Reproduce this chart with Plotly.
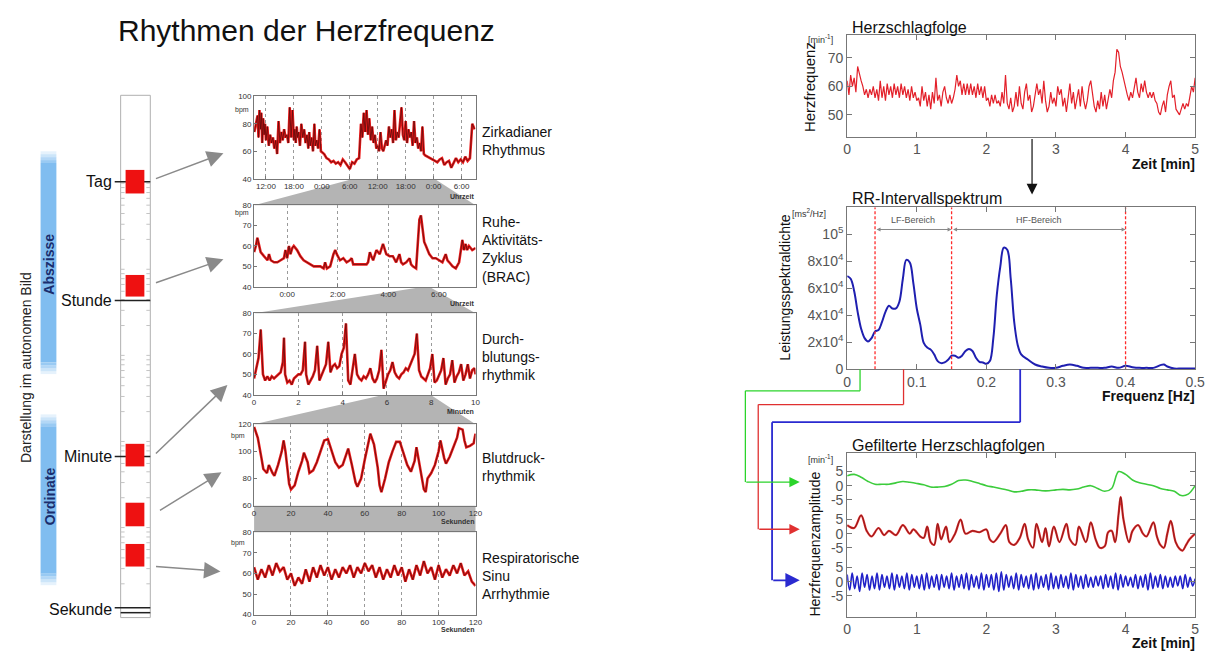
import math
import plotly.graph_objects as go

W, H = 1218, 657
FONT = "Liberation Sans, Arial, sans-serif"

# ---------------- left column: Rhythmen der Herzfrequenz ----------------
# circadian rhythm, hours after 12:00 of day 1
circ_h = [-2.5, -1.8, -1.6, -1.4, -1.2, -1.0, -0.8, -0.6, -0.4, -0.2,
          0.0, 0.3, 0.6, 0.9, 1.2, 1.5, 1.8, 2.1, 2.4, 2.7,
          3.0, 3.3, 3.6, 3.9, 4.2, 4.5, 4.8, 5.1, 5.4, 5.7,
          6.0, 6.2, 6.4, 6.6, 6.8, 7.0, 7.3, 7.6, 7.9, 8.2,
          8.5, 8.8, 9.1, 9.3, 9.5, 9.8, 10.1, 10.4, 10.6, 10.9,
          11.2, 11.5, 11.8,
          12.5, 13.0, 13.5, 14.0, 14.5, 15.0, 15.5, 16.0, 16.5, 17.0,
          17.5, 18.0, 18.5, 19.0, 19.5, 20.0,
          20.4, 20.7, 21.0, 21.3, 21.6, 21.9, 22.2, 22.5, 22.8, 23.1,
          23.4, 23.7, 24.0, 24.3, 24.6, 24.9, 25.2, 25.5, 25.8, 26.1,
          26.4, 26.7, 27.0, 27.3, 27.6, 27.9, 28.2, 28.5, 28.8, 29.1,
          29.4, 29.7, 30.0, 30.3, 30.6, 30.9, 31.2, 31.5, 31.8, 32.1,
          32.4, 32.7, 33.0, 33.3, 33.6, 33.9, 34.2,
          34.8, 35.3, 35.8, 36.3, 36.8, 37.3, 37.8, 38.3, 38.8, 39.3,
          39.8, 40.3, 40.8, 41.3, 41.8, 42.3, 42.8, 43.3, 43.8, 44.3, 44.8]
circ_bpm = [74, 86, 70, 90, 76, 88, 66, 84, 72, 80,
            68, 78, 64, 72, 66, 70, 62, 68, 58, 82,
            66, 74, 68, 76, 70, 72, 66, 92, 70, 90,
            68, 76, 66, 78, 70, 74, 64, 80, 70, 76,
            66, 72, 62, 74, 64, 70, 60, 80, 64, 68,
            62, 76, 60,
            58, 55, 54, 52, 53, 51, 52, 50, 54, 52,
            49, 47, 52, 51, 54, 55,
            80, 70, 88, 74, 90, 72, 84, 68, 78, 66,
            72, 62, 64, 60, 74, 62, 60, 64, 68, 64,
            78, 70, 76, 66, 90, 68, 74, 70, 80, 92,
            72, 68, 82, 66, 76, 70, 74, 64, 82, 66,
            70, 62, 66, 60, 78, 58, 57,
            56, 55, 54, 53, 52, 54, 55, 50, 52, 53,
            48, 51, 55, 52, 54, 52, 56, 53, 55, 80, 76]
circ_ticks = [0, 6, 12, 18, 24, 30, 36, 42]
circ_labels = ["12:00", "18:00", "0:00", "6:00", "12:00", "18:00", "0:00", "6:00"]

# rest-activity cycle (BRAC), hours after 0:00
brac_h = [-1.31, -1.24, -1.18, -1.11, -1.05, -0.92, -0.78, -0.72, -0.65, -0.52,
          -0.39, -0.26, -0.13, -0.07, 0.0, 0.07, 0.13, 0.2, 0.26, 0.39,
          0.52, 0.65, 0.78, 0.92, 1.05, 1.18, 1.31, 1.44, 1.5, 1.57,
          1.7, 1.83, 1.9, 1.96, 2.09, 2.22, 2.35, 2.48, 2.55, 2.61,
          2.88, 3.14, 3.2, 3.27, 3.33, 3.4, 3.53, 3.66, 3.79, 3.86,
          3.92, 4.05, 4.18, 4.31, 4.44, 4.51, 4.58, 4.71, 4.84, 4.9,
          4.97, 5.1, 5.23, 5.29, 5.36, 5.42, 5.49, 5.62, 5.75, 5.88,
          6.01, 6.14, 6.27, 6.34, 6.41, 6.54, 6.67, 6.8, 6.93, 6.99,
          7.06, 7.12, 7.19, 7.32, 7.45]
brac_bpm = [57, 60, 64, 60, 57, 55, 53, 56, 53, 52,
            52, 53, 54, 58, 54, 60, 56, 59, 60, 58,
            55, 53, 52, 51, 50, 50, 50, 49, 52, 49,
            50, 56, 58, 56, 53, 54, 52, 53, 54, 51,
            51, 51, 52, 57, 55, 53, 58, 56, 61, 58,
            56, 55, 55, 52, 56, 52, 51, 52, 54, 51,
            50, 49, 73, 75, 68, 62, 60, 56, 54, 54,
            53, 52, 56, 53, 52, 50, 49, 52, 63, 58,
            61, 58, 60, 58, 59]
brac_ticks = [0, 2, 4, 6]
brac_labels = ["0:00", "2:00", "4:00", "6:00"]

# perfusion rhythm, minutes
perf_min = [0, 0.1, 0.2, 0.3, 0.4, 0.5, 0.6, 0.7, 0.8, 0.9,
            1.0, 1.1, 1.2, 1.3, 1.35, 1.4, 1.5, 1.6, 1.7, 1.8,
            1.9, 2.0, 2.1, 2.2, 2.3, 2.35, 2.45, 2.55, 2.65, 2.75,
            2.85, 2.95, 3.05, 3.15, 3.25, 3.35, 3.45, 3.55, 3.65, 3.75,
            3.85, 3.95, 4.05, 4.15, 4.25, 4.35, 4.45, 4.55, 4.65, 4.75,
            4.85, 4.95, 5.05, 5.15, 5.25, 5.35, 5.45, 5.55, 5.65, 5.75,
            5.85, 5.95, 6.05, 6.15, 6.25, 6.35, 6.45, 6.55, 6.65, 6.75,
            6.85, 6.95, 7.05, 7.15, 7.25, 7.35, 7.45, 7.55, 7.65, 7.75,
            7.85, 7.95, 8.05, 8.15, 8.25, 8.35, 8.45, 8.55, 8.65, 8.75,
            8.85, 8.95, 9.05, 9.15, 9.25, 9.35, 9.45, 9.55, 9.65, 9.75,
            9.85, 9.95, 10.0]
perf_bpm = [48, 54, 58, 72, 50, 47, 49, 47, 49, 48,
            49, 50, 51, 56, 68, 50, 46, 47, 45, 48,
            49, 50, 50, 52, 66, 50, 45, 47, 49, 52,
            64, 47, 50, 53, 55, 66, 51, 54, 55, 53,
            54, 60, 63, 75, 47, 45, 52, 60, 50, 48,
            47, 49, 48, 50, 53, 48, 46, 48, 52, 62,
            43, 47, 50, 52, 56, 51, 49, 48, 50, 51,
            53, 52, 55, 57, 60, 70, 52, 49, 48, 47,
            50, 53, 60, 46, 47, 50, 52, 58, 45, 48,
            50, 57, 46, 49, 51, 55, 47, 50, 55, 48,
            52, 53, 50]

# blood pressure rhythm, seconds
bp_s = [0, 2, 4, 5, 7, 8, 10, 11, 13, 15,
        16, 17, 18, 19, 20, 22, 24, 26, 27, 29,
        30, 32, 34, 36, 38, 40, 42, 44, 46, 48,
        50, 51, 53, 55, 56, 58, 60, 62, 63, 65,
        67, 68, 69, 71, 73, 75, 77, 79, 81, 83,
        85, 87, 88, 90, 92, 93, 94, 96, 98, 100,
        101, 103, 104, 106, 108, 110, 111, 113, 114, 115,
        117, 119, 120]
bp_bpm = [118, 110, 95, 87, 84, 90, 84, 82, 90, 100,
          108, 100, 88, 76, 72, 75, 85, 93, 99, 92,
          84, 86, 92, 100, 108, 109, 100, 92, 88, 90,
          98, 102, 90, 77, 74, 80, 94, 108, 113, 105,
          88, 75, 70, 80, 92, 100, 107, 107, 98, 90,
          85, 93, 103, 88, 72, 70, 80, 84, 90, 100,
          108, 95, 91, 96, 103, 110, 117, 116, 108, 103,
          104, 106, 113]

# respiratory sinus arrhythmia, every 2 s
rsa_s = list(range(0, 121, 2))
rsa_bpm = [63, 57, 62, 58, 64, 59, 65, 61, 63, 57,
           60, 54, 58, 55, 62, 56, 63, 58, 64, 59,
           63, 57, 62, 58, 63, 60, 64, 58, 63, 60,
           65, 61, 64, 58, 63, 57, 62, 58, 64, 59,
           63, 56, 62, 57, 64, 59, 66, 60, 63, 57,
           64, 58, 62, 59, 64, 60, 65, 59, 61, 56,
           54]

# ---------------- right column ----------------
# heart rate, one value every 0.025 min
hr_vals = [62, 57, 64, 60, 63, 58, 67, 64, 62, 60, 57, 59, 56, 59, 57, 60, 56, 59, 55, 62,
           56, 60, 55, 61, 57, 60, 56, 61, 57, 60, 56, 61, 57, 60, 56, 59, 55, 60, 56, 58,
           55, 56, 53, 60, 55, 58, 53, 57, 52, 58, 54, 63, 55, 57, 53, 58, 60, 56, 54, 57,
           54, 56, 59, 64, 60, 62, 57, 61, 57, 61, 57, 61, 57, 60, 56, 61, 57, 60, 56, 60,
           55, 56, 53, 57, 54, 57, 54, 55, 53, 58, 54, 64, 54, 52, 56, 51, 53, 58, 53, 60,
           54, 52, 58, 61, 55, 57, 51, 53, 58, 61, 57, 59, 54, 62, 55, 51, 53, 58, 54, 56,
           53, 60, 57, 59, 53, 56, 51, 57, 61, 54, 58, 52, 55, 59, 53, 60, 55, 52, 55, 60,
           62, 58, 53, 51, 55, 52, 58, 53, 57, 52, 55, 59, 56, 62, 65, 73, 72, 67, 65, 62,
           60, 57, 55, 58, 56, 60, 63, 58, 56, 61, 58, 62, 58, 56, 58, 56, 58, 55, 54, 51,
           50, 53, 55, 51, 57, 60, 62, 56, 57, 52, 51, 50, 52, 54, 52, 54, 53, 56, 60, 58,
           63]

# RR interval spectrum
spec_f = [0, 0.005, 0.01, 0.015, 0.02, 0.025, 0.03, 0.035, 0.04, 0.045,
          0.05, 0.055, 0.06, 0.065, 0.07, 0.075, 0.08, 0.085, 0.09, 0.095,
          0.1, 0.105, 0.11, 0.115, 0.12, 0.125, 0.13, 0.135, 0.14, 0.145,
          0.15, 0.155, 0.16, 0.165, 0.17, 0.175, 0.18, 0.185, 0.19, 0.195,
          0.2, 0.205, 0.21, 0.215, 0.22, 0.225, 0.23, 0.235, 0.24, 0.245,
          0.25, 0.26, 0.27, 0.28, 0.29, 0.3, 0.31, 0.32, 0.33, 0.34,
          0.35, 0.36, 0.37, 0.38, 0.39, 0.4, 0.41, 0.42, 0.43, 0.44,
          0.45, 0.455, 0.46, 0.47, 0.48, 0.49, 0.5]
spec_psd = [69000, 67000, 58000, 42500, 30000, 23000, 20500, 23000, 28000, 29000,
            35000, 42500, 47000, 45000, 45000, 50000, 67000, 81000, 79000, 64000,
            45000, 33000, 19500, 16000, 14500, 11000, 6000, 4500, 5000, 7000,
            10000, 10000, 8500, 10000, 13500, 15000, 13500, 8500, 5500, 5000,
            4000, 6000, 23000, 55000, 76000, 90000, 88500, 67000, 35000, 18000,
            11000, 7000, 3500, 2000, 1000, 1000, 2500, 3500, 2500, 1000,
            1000, 1000, 1000, 2000, 1000, 2500, 1500, 1000, 1000, 1000,
            3000, 3500, 2000, 500, 500, 500, 500]
band_edges = [0.04, 0.15, 0.4]
spec_ticks = [0, 20000, 40000, 60000, 80000, 100000]
spec_labels = ["0", "2x10<sup>4</sup>", "4x10<sup>4</sup>", "6x10<sup>4</sup>",
               "8x10<sup>4</sup>", "10<sup>5</sup>"]

# filtered heart rate: VLF every 0.1 min
vlf_amp = [3.5, 4, 3, 1.5, 0.5, 0.5, 0.5, 1, 1.5, 1.2,
           0.8, 0.3, -0.5, -0.5, -0.3, 0.5, 1.8, 2, 1.5, 0.8,
           0, -0.5, -1, -1.5, -2.2, -2, -1.5, -1.5, -1.8, -1.8,
           -1.5, -1.3, -1.5, -1.2, -0.5, 0, -1, -2, -1, 5,
           4, 2, 1, 0.5, 0, -1, -1.5, -2, -3.5, -3,
           0]
# LF band
lf_min = [0.0, 0.1, 0.2, 0.28, 0.35, 0.45, 0.53, 0.6, 0.7, 0.8,
          0.9, 0.95, 1.05, 1.1, 1.15, 1.2, 1.25, 1.3, 1.35, 1.42,
          1.47, 1.55, 1.63, 1.7, 1.8, 1.9, 2.0, 2.05, 2.1, 2.2,
          2.28, 2.33, 2.4, 2.48, 2.55, 2.6, 2.67, 2.72, 2.8, 2.85,
          2.9, 2.97, 3.05, 3.15, 3.2, 3.28, 3.33, 3.43, 3.5, 3.57,
          3.63, 3.7, 3.75, 3.8, 3.85, 3.9, 3.93, 3.97, 4.05, 4.1,
          4.18, 4.25, 4.3, 4.4, 4.45, 4.5, 4.55, 4.6, 4.65, 4.72,
          4.78, 4.82, 4.87, 4.92, 5.0]
lf_amp = [3, 2, 6.5, 1, -1, 2, -0.5, 1, -0.5, 3,
          0, 1.5, -1, -1.5, 2.5, -3, -4, 3.5, -2, 2.5,
          -3, 0, 5, 0, 1, 0.5, 1.5, -2, -3, 0,
          3, -3, -4, -1.5, 3.5, -2, -5, 3.5, -3, 2,
          -4.5, 2.5, -3, 3.5, -2, -4, 2.5, -3, 4, -2,
          -5, -4.5, 0.5, 1, -3, 7, 13, 5, -3, 1,
          3, 0, -1, 4, -1, -4, -5, 0, 4.5, -3,
          -5.5, -6, -4, -2, 0]
# HF band, alternating extremes over 5 min
hf_amp = [2.5, -3, 3, -2.5, 2, -3.5, 3, -2, 2.5, -3,
          2, -2.5, 3, -3, 2.5, -2, 2, -2.5, 3, -3,
          2.5, -2, 2, -2.5, 3, -3, 2.5, -2, 2, -2.5,
          2.5, -3, 3, -2.5, 2, -2, 2.5, -3, 2.5, -2,
          2, -2.5, 3, -3, 2, -2, 2.5, -2.5, 3, -3,
          2.5, -2, 2, -2.5, 3, -3, 2.5, -2, 2.5, -3,
          3, -3.5, 3.5, -3, 2.5, -2, 2, -2.5, 3, -3,
          2.5, -2, 2, -2.5, 2.5, -3, 3, -2.5, 2, -2,
          2.5, -3, 3, -2.5, 2, -2.5, 2.5, -2, 2, -2.5,
          3, -3, 2.5, -2, 2, -2.5, 2.5, -2, 1.5, -2,
          2, -1.5, 2, -2.5, 2.5, -2, 2, -2.5, 3, -3,
          2.5, -2, 2, -1.5, 1.5, -2, 2.5, -2.5, 2, -2,
          2.5, -3, 3, -2.5, 2, -2, 2.5, -2.5, 2, -2,
          1.5, -2, 2, -1.5, 2, -2.5, 2.5, -2, 1.5, -1.5,
          1]
LF_OFFSET, VLF_OFFSET = 17, 34


def px(x):
    return x / W


def py(y):
    return 1 - y / H


fig = go.Figure()
shapes, notes = [], []


def ax_id(n):
    return "" if n == 1 else str(n)


def add_line(x, y, n, color, width, shape="linear"):
    fig.add_trace(go.Scatter(x=x, y=y, mode="lines", line=dict(color=color, width=width, shape=shape),
                             xaxis="x" + ax_id(n), yaxis="y" + ax_id(n),
                             hoverinfo="skip", showlegend=False))


def rhythm(x, y, n):
    add_line(x, y, n, "#ee1c1c", 2.6)
    add_line(x, y, n, "#5c0b0b", 0.8)


def text(x, y, s, size=14, color="#111", xanchor="left", angle=0, bold=False):
    if bold:
        s = "<b>" + s + "</b>"
    notes.append(dict(x=px(x), y=py(y), xref="paper", yref="paper", text=s, showarrow=False,
                      xanchor=xanchor, yanchor="middle", textangle=angle, align="left",
                      font=dict(size=size, color=color, family=FONT)))


def seg(x0, y0, x1, y1, color, width=1):
    shapes.append(dict(type="line", xref="paper", yref="paper", x0=px(x0), y0=py(y0),
                       x1=px(x1), y1=py(y1), line=dict(color=color, width=width)))


def box(x0, y0, x1, y1, color, opacity=1.0):
    shapes.append(dict(type="rect", xref="paper", yref="paper", x0=px(x0), y0=py(y0),
                       x1=px(x1), y1=py(y1), fillcolor=color, opacity=opacity,
                       line=dict(width=0), layer="below"))


def poly(points, color):
    path = "M " + " L ".join(f"{px(a):.5f},{py(b):.5f}" for a, b in points) + " Z"
    shapes.append(dict(type="path", xref="paper", yref="paper", path=path,
                       fillcolor=color, line=dict(width=0), layer="below"))


def arrow(tail, head, color, width=1.5, size=2.0):
    notes.append(dict(x=px(head[0]), y=py(head[1]), xref="paper", yref="paper",
                      ax=tail[0] - head[0], ay=tail[1] - head[1], text="", showarrow=True,
                      arrowhead=2, arrowsize=size, arrowwidth=width, arrowcolor=color))


# ---- traces ----
rhythm(circ_h, circ_bpm, 1)
rhythm(brac_h, brac_bpm, 2)
rhythm(perf_min, perf_bpm, 3)
rhythm(bp_s, bp_bpm, 4)
rhythm(rsa_s, rsa_bpm, 5)

hr_min = [i * 0.025 for i in range(len(hr_vals))]
add_line(hr_min, hr_vals, 6, "#e3202a", 1.2)
add_line(spec_f, spec_psd, 7, "#1f1fb0", 2, "spline")
for edge in band_edges:
    fig.add_trace(go.Scatter(x=[edge, edge], y=[0, 120000], mode="lines", xaxis="x7", yaxis="y7",
                             line=dict(color="#ff2a2a", width=1.3, dash="3px,2px"),
                             hoverinfo="skip", showlegend=False))

vlf_min = [i * 0.1 for i in range(len(vlf_amp))]
hf_min = [i * 5 / (len(hf_amp) - 1) for i in range(len(hf_amp))]
add_line(vlf_min, [v + VLF_OFFSET for v in vlf_amp], 8, "#3ccc3c", 1.6, "spline")
add_line(lf_min, [v + LF_OFFSET for v in lf_amp], 8, "#e03030", 2.2, "spline")
add_line(lf_min, [v + LF_OFFSET for v in lf_amp], 8, "#6a1010", 0.7, "spline")
add_line(hf_min, hf_amp, 8, "#2020c8", 1.6, "spline")

# ---- axes ----
small = dict(showline=True, linecolor="#777", linewidth=1, mirror=True, ticks="inside", ticklen=3,
             tickcolor="#777", zeroline=False, fixedrange=True,
             tickfont=dict(size=8, color="#333", family=FONT))
small_x = dict(small, showgrid=True, gridcolor="#9a9a9a", griddash="dot", gridwidth=1)
small_y = dict(small, showgrid=False)
big = dict(showline=True, linecolor="#777", linewidth=1, mirror="allticks", ticks="inside",
           ticklen=5, tickcolor="#777", zeroline=False, showgrid=False, fixedrange=True,
           tickfont=dict(size=14, color="#555", family=FONT))

left_dom = [px(253), px(477)]
right_dom = [px(853), px(1205)]
rows = [(94, 178), (205, 288), (315, 398), (428, 511), (538, 622)]
lay = {}
xcfg = [dict(range=[-2.55, 45.0], tickvals=circ_ticks, ticktext=circ_labels),
        dict(range=[-1.31, 7.45], tickvals=brac_ticks, ticktext=brac_labels),
        dict(range=[0, 10], tickvals=[0, 2, 4, 6, 8, 10]),
        dict(range=[0, 120], tickvals=[0, 20, 40, 60, 80, 100, 120]),
        dict(range=[0, 120], tickvals=[0, 20, 40, 60, 80, 100, 120])]
ycfg = [dict(range=[40, 100], tickvals=[40, 60, 80, 100]),
        dict(range=[40, 80], tickvals=[40, 50, 60, 70, 80]),
        dict(range=[40, 80], tickvals=[40, 50, 60, 70, 80]),
        dict(range=[60, 120], tickvals=[60, 80, 100, 120]),
        dict(range=[40, 80], tickvals=[40, 50, 60, 70, 80])]
for i, (top, bot) in enumerate(rows):
    n = i + 1
    lay["xaxis" + ax_id(n)] = dict(small_x, domain=left_dom, anchor="y" + ax_id(n), **xcfg[i])
    lay["yaxis" + ax_id(n)] = dict(small_y, domain=[py(bot), py(top)], anchor="x" + ax_id(n), **ycfg[i])

lay["xaxis6"] = dict(big, domain=right_dom, anchor="y6", range=[0, 5], tickvals=[0, 1, 2, 3, 4, 5])
lay["yaxis6"] = dict(big, domain=[py(135), py(32)], anchor="x6", range=[42.4, 77.9], tickvals=[50, 60, 70])
lay["xaxis7"] = dict(big, domain=right_dom, anchor="y7", range=[0, 0.5],
                     tickvals=[0, 0.1, 0.2, 0.3, 0.4, 0.5], ticktext=["0", "0.1", "0.2", "0.3", "0.4", "0.5"])
lay["yaxis7"] = dict(big, domain=[py(372), py(207)], anchor="x7", range=[0, 120000],
                     tickvals=spec_ticks, ticktext=spec_labels)
lay["xaxis8"] = dict(big, domain=right_dom, anchor="y8", range=[0, 5], tickvals=[0, 1, 2, 3, 4, 5])
lay["yaxis8"] = dict(big, domain=[py(624), py(457)], anchor="x8", range=[-12.4, 45.7],
                     tickvals=[-5, 0, 5, LF_OFFSET - 5, LF_OFFSET, LF_OFFSET + 5,
                               VLF_OFFSET - 5, VLF_OFFSET, VLF_OFFSET + 5],
                     ticktext=["-5", "0", "5"] * 3)

# ---- left decorations ----
text(113, 27, "Rhythmen der Herzfrequenz", size=30)

# blue bars with faded ends
for (y0, y1), label, cy in [((150, 377), "Abszisse", 265), ((418, 592), "Ordinate", 501)]:
    box(37, y0 + 12, 53, y1 - 12, "#80bdf0")
    for k in range(4):
        box(37, y0 + 3 * k, 53, y0 + 3 * k + 3, "#80bdf0", 0.2 + 0.2 * k)
        box(37, y1 - 3 * k - 3, 53, y1 - 3 * k, "#80bdf0", 0.2 + 0.2 * k)
    text(46, cy, label, size=14, color="#1a2e6e", xanchor="center", angle=-90, bold=True)
text(22, 370, "Darstellung im autonomen Bild", size=14, color="#222", xanchor="center", angle=-90)

# logarithmic time ruler
shapes.append(dict(type="rect", xref="paper", yref="paper", x0=px(118), y0=py(625), x1=px(148), y1=py(93),
                   fillcolor="white", line=dict(color="#b0b0b0", width=1), layer="below"))
SEC_Y, DECADE = 617, 87.7
for k in range(5):
    for m in range(2, 10):
        y = SEC_Y - DECADE * (k + math.log10(m))
        if y > 96:
            seg(118, y, 122, y, "#c4c4c4")
            seg(144, y, 148, y, "#c4c4c4")
for label, y in [("Tag", 181), ("Stunde", 302), ("Minute", 461)]:
    seg(112, y, 148, y, "#222", 1.5)
    text(111, y, label, size=16, xanchor="right")
seg(112, 615, 148, 615, "#222", 1.5)
seg(118, 620, 148, 620, "#222", 1.5)
text(111, 617, "Sekunde", size=16, xanchor="right")
for y0, y1 in [(169, 193), (276, 298), (448, 471), (508, 532), (550, 573)]:
    shapes.append(dict(type="rect", xref="paper", yref="paper", x0=px(123), y0=py(y1), x1=px(142), y1=py(y0),
                       fillcolor="#ee1111", line=dict(width=0)))
for tail, head in [((153, 178), (222, 152)), ((153, 284), (222, 260)), ((153, 458), (226, 388)),
                   ((157, 516), (220, 477)), ((153, 573), (219, 578))]:
    arrow(tail, head, "#8a8a8a", 1.5, 2.2)

# zoom wedges between the small charts
poly([(253, 205), (350, 179), (437, 179), (477, 205)], "#b4b4b4")
poly([(253, 315), (418, 289), (432, 289), (477, 315)], "#b4b4b4")
poly([(253, 428), (380, 399), (433, 399), (477, 428)], "#b4b4b4")
poly([(253, 538), (253, 511), (477, 511), (477, 538)], "#b4b4b4")

for y in [108, 213]:
    text(232, y, "bpm", size=7, color="#333")
for y in [440, 549]:
    text(228, y, "bpm", size=7, color="#333")
for label, y in [("Uhrzeit", 196), ("Uhrzeit", 305), ("Minuten", 415), ("Sekunden", 527), ("Sekunden", 637)]:
    text(477, y, label, size=7, color="#333", xanchor="right", bold=True)

text(482, 140, "Zirkadianer<br>Rhythmus")
text(482, 250, "Ruhe-<br>Aktivitäts-<br>Zyklus<br>(BRAC)")
text(482, 360, "Durch-<br>blutungs-<br>rhythmik")
text(482, 472, "Blutdruck-<br>rhythmik")
text(482, 583, "Respiratorische<br>Sinu<br>Arrhythmie")

# ---- right decorations ----
text(856, 24, "Herzschlagfolge", size=16)
text(811, 36, "[min<sup>-1</sup>]", size=9, color="#333")
text(815, 85, "Herzfrequenz", size=15, xanchor="center", angle=-90)
text(1207, 163, "Zeit [min]", size=14, xanchor="right", bold=True)

text(856, 198, "RR-Intervallspektrum", size=16)
text(795, 213, "[ms<sup>2</sup>/Hz]", size=9, color="#333")
text(790, 288, "Leistungsspektraldichte", size=14, xanchor="center", angle=-90)
text(1207, 399, "Frequenz [Hz]", size=14, xanchor="right", bold=True)
for lo, hi, name in [(band_edges[0], band_edges[1], "LF-Bereich"), (band_edges[1], band_edges[2], "HF-Bereich")]:
    notes.append(dict(x=hi, y=103500, ax=lo, ay=103500, xref="x7", yref="y7", axref="x7", ayref="y7",
                      text="", showarrow=True, arrowside="end+start", arrowhead=2, arrowsize=0.8,
                      arrowwidth=1, arrowcolor="#888"))
    notes.append(dict(x=(lo + hi) / 2, y=110500, xref="x7", yref="y7", text=name, showarrow=False,
                      font=dict(size=9, color="#555", family=FONT)))

text(856, 450, "Gefilterte Herzschlagfolgen", size=16)
text(811, 463, "[min<sup>-1</sup>]", size=9, color="#333")
text(820, 550, "Herzfrequenzamplitude", size=14, xanchor="center", angle=-90)
text(1207, 651, "Zeit [min]", size=14, xanchor="right", bold=True)

# arrow from heart rate series to spectrum
arrow((1040, 137), (1040, 194), "#111", 1.2, 1.8)

# band-filter connectors
for pts, color, width in [([(866, 372), (866, 394), (750, 394), (750, 487)], "#2bd42b", 1.3),
                          ([(910, 372), (910, 408), (763, 408), (763, 535)], "#e03030", 1.3),
                          ([(1028, 372), (1028, 426), (777, 426), (777, 587)], "#2a2ad0", 1.8)]:
    for (a, b), (c, d) in zip(pts[:-1], pts[1:]):
        seg(a, b, c, d, color, width)
    arrow(pts[-1], (805, pts[-1][1]), color, width, 1.6)

fig.update_layout(width=W, height=H, margin=dict(l=0, r=0, t=0, b=0),
                  paper_bgcolor="white", plot_bgcolor="white",
                  font=dict(family=FONT), showlegend=False,
                  shapes=shapes, annotations=notes, **lay)
# the page's default body margin would push the figure off the window
fig.write_html("out.html", config={"displayModeBar": False},
               post_script="document.body.style.margin='0';")
